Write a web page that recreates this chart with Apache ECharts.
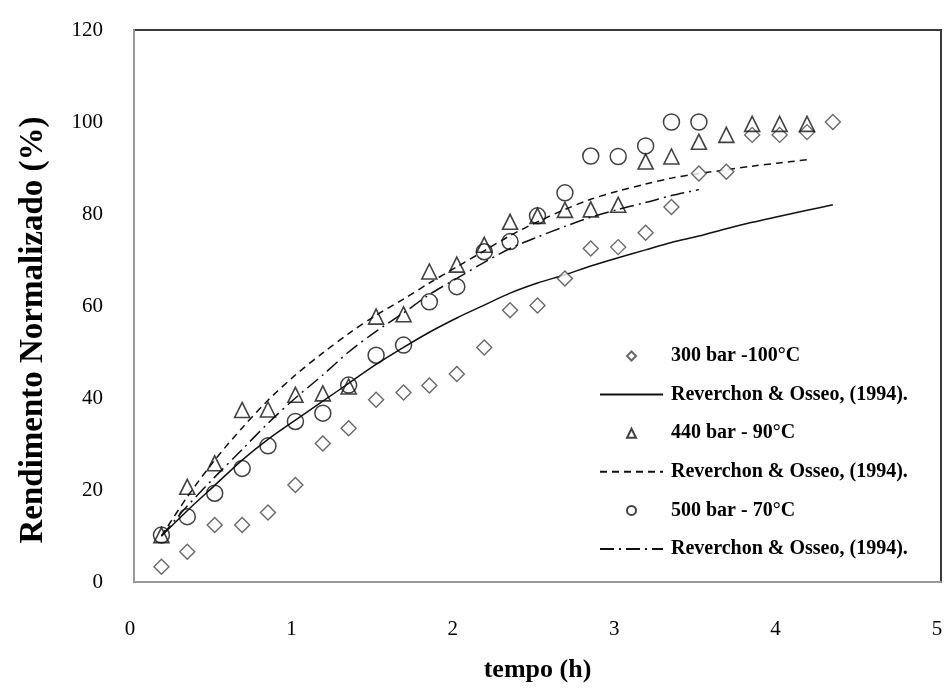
<!DOCTYPE html>
<html>
<head>
<meta charset="utf-8">
<script src="https://cdn.jsdelivr.net/npm/echarts@6/dist/echarts.min.js"></script>
<style>html,body{margin:0;padding:0;background:#fff}#c{width:948px;height:696px}</style>
</head>
<body>
<div id="c"></div>
<script>
// ---- data ----
const xTicks = [0, 1, 2, 3, 4, 5];
const yTicks = [0, 20, 40, 60, 80, 100, 120];

const t300 = [0.17,0.33,0.50,0.67,0.83,1.00,1.17,1.33,1.50,1.67,1.83,2.00,2.17,2.33,2.50,2.67,2.83,3.00,3.17,3.33,3.50,3.67,3.83,4.00,4.17,4.33];
const y300 = [3.3,6.6,12.4,12.4,15.1,21.1,30.1,33.4,39.6,41.2,42.7,45.2,51.0,59.1,60.1,66.0,72.5,72.8,75.9,81.5,88.8,89.2,97.2,97.2,97.8,100.0];

const t440 = [0.17,0.33,0.50,0.67,0.83,1.00,1.17,1.33,1.50,1.67,1.83,2.00,2.17,2.33,2.50,2.67,2.83,3.00,3.17,3.33,3.50,3.67,3.83,4.00,4.17];
const y440 = [10.2,20.7,25.8,37.4,37.5,40.7,41.0,42.5,57.7,58.2,67.5,69.0,73.3,78.3,79.6,80.9,81.0,82.0,91.4,92.5,95.7,97.2,99.6,99.6,99.6];

const t500 = [0.17,0.33,0.50,0.67,0.83,1.00,1.17,1.33,1.50,1.67,1.83,2.00,2.17,2.33,2.50,2.67,2.83,3.00,3.17,3.33,3.50];
const y500 = [10.2,14.2,19.3,24.7,29.6,34.9,36.7,42.8,49.3,51.5,60.9,64.2,71.8,74.0,79.6,84.6,92.6,92.5,94.8,100.0,100.0];

const tM1 = [0.17,0.33,0.50,0.67,0.83,1.00,1.17,1.33,1.50,1.67,1.83,2.00,2.17,2.33,2.50,2.67,2.83,3.00,3.17,3.33,3.50,3.67,3.83,4.00,4.17,4.33];
const yM1 = [10.0,15.5,21.0,26.5,31.0,35.2,39.3,43.2,47.3,51.0,54.3,57.4,60.2,62.8,65.0,66.8,68.7,70.5,72.2,73.8,75.2,76.8,78.2,79.5,80.8,82.0];

const tM2 = [0.17,0.33,0.50,0.67,0.83,1.00,1.17,1.33,1.50,1.67,1.83,2.00,2.17,2.33,2.50,2.67,2.83,3.00,3.17,3.33,3.50,3.67,3.83,4.00,4.17];
const yM2 = [10.0,18.5,26.5,33.5,39.5,45.0,49.8,54.0,58.0,61.5,65.0,68.5,72.0,75.3,78.3,81.0,83.2,85.0,86.5,87.8,88.8,89.6,90.4,91.1,91.8];

const tM3 = [0.17,0.33,0.50,0.67,0.83,1.00,1.17,1.33,1.50,1.67,1.83,2.00,2.17,2.33,2.50,2.67,2.83,3.00,3.17,3.33,3.50];
const yM3 = [10.0,16.5,22.8,28.8,34.5,40.0,45.0,50.0,54.5,58.5,62.5,66.0,69.5,72.5,75.0,77.3,79.3,81.0,82.5,84.0,85.3];

const legendLabels = {
  s300: '300 bar -100\u00B0C',
  m1: 'Reverchon & Osseo, (1994).',
  s440: '440 bar - 90\u00B0C',
  m2: 'Reverchon & Osseo, (1994).',
  s500: '500 bar - 70\u00B0C',
  m3: 'Reverchon & Osseo, (1994).'
};
const xTitle = 'tempo (h)';
const yTitle = 'Rendimento Normalizado (%)';

const zip = (a, b) => a.map((v, i) => [v, b[i]]);
const serif = '"Liberation Serif", "DejaVu Serif", serif';
const diamondPath = 'path://M5,0 L10,5 L5,10 L0,5 Z';
const trianglePath = 'path://M5,0 L10,10 L0,10 Z';

const chart = echarts.init(document.getElementById('c'), null, {renderer: 'canvas'});
chart.setOption({
  animation: false,
  backgroundColor: '#fff',
  grid: {left: 134, right: 7, top: 30, bottom: 114, show: true, borderColor: '#3a3a3a', borderWidth: 2, backgroundColor: 'transparent'},
  xAxis: {
    type: 'value', min: xTicks[0], max: xTicks[xTicks.length - 1], interval: 1,
    name: xTitle, nameLocation: 'middle', nameGap: 75,
    nameTextStyle: {fontFamily: serif, fontWeight: 'bold', fontSize: 26, color: '#000'},
    axisLine: {show: true, onZero: false, lineStyle: {color: '#999', width: 2}},
    axisTick: {show: false},
    splitLine: {show: false},
    axisLabel: {fontFamily: serif, fontSize: 21, color: '#000', margin: 37, padding: [0, 8, 0, 0]}
  },
  yAxis: {
    type: 'value', min: yTicks[0], max: yTicks[yTicks.length - 1], interval: 20,
    axisLine: {show: true, onZero: false, lineStyle: {color: '#999', width: 2}},
    axisTick: {show: false},
    splitLine: {show: false},
    axisLabel: {fontFamily: serif, fontSize: 21, color: '#000', margin: 31}
  },
  graphic: [{
    type: 'text', x: 33, y: 330, rotation: Math.PI / 2,
    style: {text: yTitle, fontFamily: serif, fontWeight: 'bold', fontSize: 33, fill: '#000', align: 'center', verticalAlign: 'middle'}
  }],
  legend: {
    orient: 'vertical', left: 594, top: 341,
    itemWidth: 63, itemHeight: 9, itemGap: 18.6,
    symbolKeepAspect: true,
    data: [
      {name: 's300', icon: diamondPath},
      {name: 'm1'},
      {name: 's440', icon: trianglePath},
      {name: 'm2'},
      {name: 's500', icon: 'circle'},
      {name: 'm3'}
    ],
    formatter: n => legendLabels[n],
    textStyle: {fontFamily: serif, fontWeight: 'bold', fontSize: 20, color: '#000', lineHeight: 20, padding: [0, 0, 0, 3]},
    selectedMode: false
  },
  series: [
    {name: 's300', type: 'scatter', data: zip(t300, y300), symbol: 'diamond', symbolSize: 15,
      itemStyle: {color: '#fff', borderColor: '#444', borderWidth: 1.4}, z: 3},
    {name: 'm1', type: 'line', data: zip(tM1, yM1), showSymbol: false, symbol: 'none', smooth: 0.3,
      itemStyle: {color: '#111', opacity: 0},
      lineStyle: {color: '#111', width: 1.5, type: 'solid'}, z: 2},
    {name: 's440', type: 'scatter', data: zip(t440, y440), symbol: 'triangle', symbolSize: 15,
      itemStyle: {color: 'rgba(255,255,255,0)', borderColor: '#111', borderWidth: 1.6}, z: 4},
    {name: 'm2', type: 'line', data: zip(tM2, yM2), showSymbol: false, symbol: 'none', smooth: 0.3,
      itemStyle: {color: '#111', opacity: 0},
      lineStyle: {color: '#111', width: 1.5, type: [7, 5]}, z: 2},
    {name: 's500', type: 'scatter', data: zip(t500, y500), symbol: 'circle', symbolSize: 16,
      itemStyle: {color: 'rgba(255,255,255,0)', borderColor: '#111', borderWidth: 1.5}, z: 3},
    {name: 'm3', type: 'line', data: zip(tM3, yM3), showSymbol: false, symbol: 'none', smooth: 0.3,
      itemStyle: {color: '#111', opacity: 0},
      lineStyle: {color: '#111', width: 1.5, type: [14, 5, 2, 5]}, z: 2}
  ]
});
</script>
</body>
</html>
